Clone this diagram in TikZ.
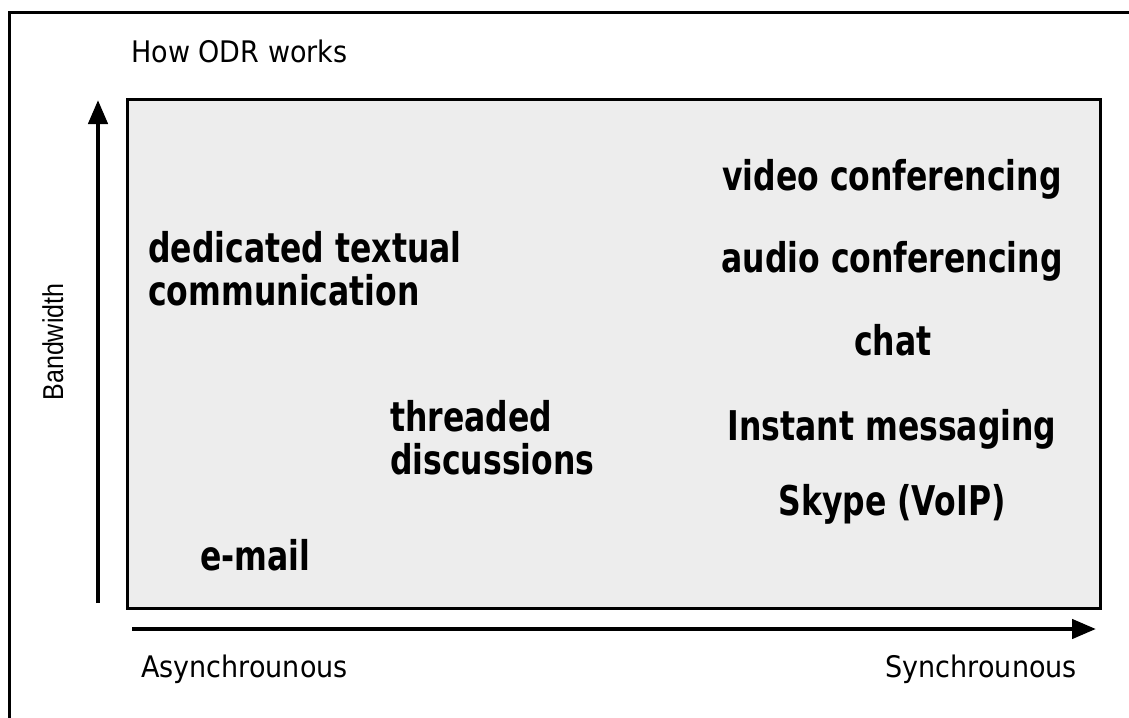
\documentclass[tikz,border=0pt]{standalone}
\usepackage{fontspec}
\usepackage{graphicx}
\setmainfont{DejaVu Sans}
\newfontfamily\bandfont{Liberation Sans}
\newcommand\tall[1]{\scalebox{1}[1.3]{#1}}
\usetikzlibrary{arrows.meta}
\begin{document}
\begin{tikzpicture}[x=1pt,y=-1pt,
  every node/.style={inner sep=0pt},
  tool/.style={font=\fontsize{31.5}{43}\selectfont\bfseries,align=left},
  caption/.style={font=\fontsize{27}{32}\selectfont},
  axis/.style={line width=4.5pt,-{Triangle[length=24pt,width=19pt]}}]
\useasboundingbox (0,0) rectangle (1129,717);
% frame and field
\draw[line width=3pt] (9,13) rectangle (1145,735);
\draw[line width=3pt,fill=black!7] (127,99) rectangle (1100,608);
\node[caption,anchor=base west] (title) at (131,63) {\scalebox{1}[1.1]{How ODR works}};
% axes
\coordinate (ybot) at (98,603);
\coordinate (ytop) at (98,100);
\coordinate (xlft) at (132,629);
\coordinate (xrgt) at (1096,629);
\draw[axis] (ybot) -- (ytop);
\draw[axis] (xlft) -- (xrgt);
\node[font=\bandfont\fontsize{25}{30}\selectfont,rotate=90,anchor=base] (bw) at (63,342) {\scalebox{1}[1.15]{Bandwidth}};
\node[caption,anchor=base west] (async) at (141,677) {\scalebox{1}[1.1]{Asynchrounous}};
\node[caption,anchor=base east] (sync) at (1077,677) {\scalebox{1}[1.1]{Synchrounous}};
% tools
\node[tool,anchor=base] (video) at (892,190) {\tall{video conferencing}};
\node[tool,anchor=base] (audio) at (892,272) {\tall{audio conferencing}};
\node[tool,anchor=base] (chat) at (893,355) {\tall{chat}};
\node[tool,anchor=base] (im) at (892,440) {\tall{Instant messaging}};
\node[tool,anchor=base] (skype) at (892,515) {\tall{Skype (VoIP)}};
\node[tool,anchor=base west] (text) at (148,305) {\tall{dedicated textual}\\\tall{communication}};
\node[tool,anchor=base west] (thread) at (390,474) {\tall{threaded}\\\tall{discussions}};
\node[tool,anchor=base west] (mail) at (200,570) {\tall{e-mail}};
\end{tikzpicture}
\end{document}
